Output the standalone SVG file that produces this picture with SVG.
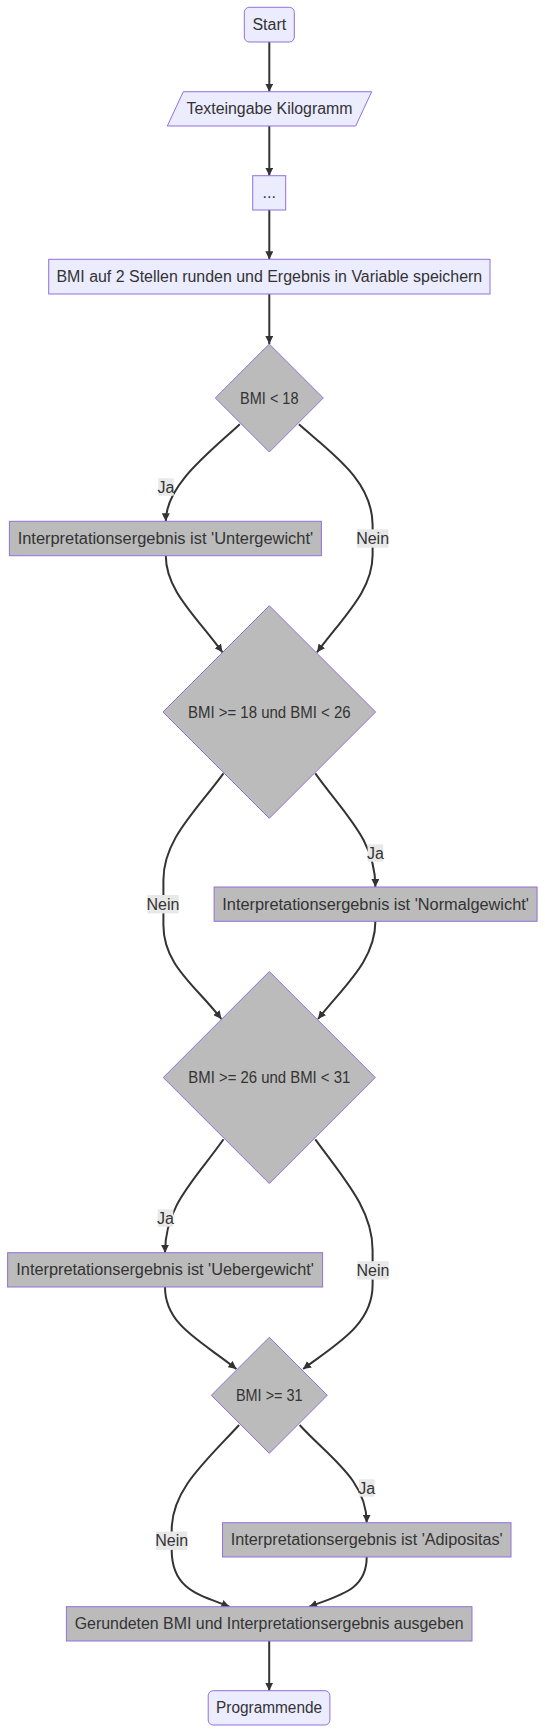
<svg xmlns="http://www.w3.org/2000/svg" width="545" height="1733" viewBox="0 0 545 1733">
<style>
.bg{fill:#ffffff}
.light{fill:#ECECFF;stroke:#9370DB;stroke-width:1}
.gray{fill:#BBBBBB;stroke:#9370DB;stroke-width:1}
.t{font-family:"Liberation Sans",Arial,sans-serif;font-size:16px;fill:#333333;text-anchor:middle}
.edge{fill:none;stroke:#333333;stroke-width:2}
.lbl{fill:#E8E8E8}
</style>
<defs>
<marker id="arrow" viewBox="0 0 10 10" refX="10" refY="5" markerUnits="userSpaceOnUse" markerWidth="8" markerHeight="8" orient="auto">
<path d="M0,0 L10,5 L0,10 z" fill="#333333"/>
</marker>
</defs>
<rect class="bg" x="0" y="0" width="545" height="1733"/>
<g id="connectors">
<path class="edge" marker-end="url(#arrow)" d="M269.3,42 L269.3,91.7"/>
<path class="edge" marker-end="url(#arrow)" d="M269.3,126 L269.3,175.7"/>
<path class="edge" marker-end="url(#arrow)" d="M269.3,210 L269.3,259.3"/>
<path class="edge" marker-end="url(#arrow)" d="M269.3,294 L269.3,344"/>
<path class="edge" marker-end="url(#arrow)" d="M239.8,424.3 C210,452 165.8,485 165.8,521.3"/>
<path class="edge" marker-end="url(#arrow)" d="M298.9,424.3 C330,452 372.6,480 372.6,525 L372.6,555 C372.6,590 345,615 317,652.3"/>
<path class="edge" marker-end="url(#arrow)" d="M165.8,555.7 C165.8,590 195,615 222.5,652.3"/>
<path class="edge" marker-end="url(#arrow)" d="M223.5,773.3 C195,812 163.4,840 163.4,880 L163.4,925 C163.4,965 195,985 221.4,1019"/>
<path class="edge" marker-end="url(#arrow)" d="M315.3,773.3 C345,815 375.4,840 375.4,887"/>
<path class="edge" marker-end="url(#arrow)" d="M375.4,921.3 C375.4,960 345,985 318,1019"/>
<path class="edge" marker-end="url(#arrow)" d="M223.5,1139.3 C195,1180 165,1205 165,1252.7"/>
<path class="edge" marker-end="url(#arrow)" d="M315.3,1139.3 C345,1180 372.6,1210 372.6,1250 L372.6,1285 C372.6,1325 335,1345 303.1,1369"/>
<path class="edge" marker-end="url(#arrow)" d="M165,1287 C165,1325 200,1340 236.4,1369"/>
<path class="edge" marker-end="url(#arrow)" d="M299.6,1425 C330,1458 366.7,1480 366.7,1522.7"/>
<path class="edge" marker-end="url(#arrow)" d="M239.1,1425 C205,1462 171.7,1490 171.7,1530 L171.7,1550 C171.7,1590 200,1595 229.4,1606.7"/>
<path class="edge" marker-end="url(#arrow)" d="M366.7,1557 C366.7,1590 340,1595 309.3,1606.7"/>
<path class="edge" marker-end="url(#arrow)" d="M269.2,1641 L269.2,1690.7"/>
<g id="edge-labels">
<rect class="lbl" x="158.2" y="478.3" width="15.6" height="17.4"/><text class="t" x="166" y="492.5">Ja</text>
<rect class="lbl" x="357" y="529.3" width="31.3" height="18.4"/><text class="t" x="372.6" y="544">Nein</text>
<rect class="lbl" x="147.4" y="895" width="31.3" height="18.4"/><text class="t" x="163" y="909.7">Nein</text>
<rect class="lbl" x="367.6" y="844.3" width="15.6" height="17.4"/><text class="t" x="375.4" y="858.5">Ja</text>
<rect class="lbl" x="157.7" y="1209.3" width="15.6" height="17.4"/><text class="t" x="165.5" y="1223.5">Ja</text>
<rect class="lbl" x="357.3" y="1261.2" width="31.3" height="18.4"/><text class="t" x="373" y="1275.9">Nein</text>
<rect class="lbl" x="358.9" y="1479.3" width="15.6" height="17.4"/><text class="t" x="366.7" y="1493.5">Ja</text>
<rect class="lbl" x="156" y="1531.5" width="31.3" height="18.4"/><text class="t" x="171.7" y="1546.2">Nein</text>
</g>
</g>
<g id="start">
<rect class="light" x="244.3" y="7.3" width="50" height="34.7" rx="5" ry="5"/>
<text class="t" x="269.3" y="30.2">Start</text>
</g>
<g id="texteingabe">
<polygon class="light" points="183.3,91.7 371.7,91.7 355.7,126 167.3,126"/>
<text class="t" x="269.5" y="114.3" textLength="166" lengthAdjust="spacingAndGlyphs">Texteingabe Kilogramm</text>
</g>
<g id="dots">
<rect class="light" x="252.7" y="175.7" width="33" height="34.3"/>
<text class="t" x="269.2" y="198.3">...</text>
</g>
<g id="bmi-runden">
<rect class="light" x="48.7" y="259.3" width="441.3" height="34.7"/>
<text class="t" x="269.3" y="282.2" textLength="425.8" lengthAdjust="spacingAndGlyphs">BMI auf 2 Stellen runden und Ergebnis in Variable speichern</text>
</g>
<g id="d1">
<polygon class="gray" points="269.3,344 323.3,398 269.3,452 215.3,398"/>
<text class="t" x="269.3" y="403.5" textLength="58.4" lengthAdjust="spacingAndGlyphs">BMI &lt; 18</text>
</g>
<g id="untergewicht">
<rect class="gray" x="9.4" y="521.3" width="312" height="34.4"/>
<text class="t" x="165.4" y="544" textLength="295.5" lengthAdjust="spacingAndGlyphs">Interpretationsergebnis ist 'Untergewicht'</text>
</g>
<g id="d2">
<polygon class="gray" points="269.3,605.7 375.6,712 269.3,818.3 163,712"/>
<text class="t" x="269.3" y="717.5" textLength="162.7" lengthAdjust="spacingAndGlyphs">BMI &gt;= 18 und BMI &lt; 26</text>
</g>
<g id="normalgewicht">
<rect class="gray" x="214.1" y="887" width="323" height="34.3"/>
<text class="t" x="375.6" y="909.7" textLength="306.6" lengthAdjust="spacingAndGlyphs">Interpretationsergebnis ist 'Normalgewicht'</text>
</g>
<g id="d3">
<polygon class="gray" points="269.3,971.5 375.3,1077.5 269.3,1183.5 163.3,1077.5"/>
<text class="t" x="269.3" y="1083" textLength="162" lengthAdjust="spacingAndGlyphs">BMI &gt;= 26 und BMI &lt; 31</text>
</g>
<g id="uebergewicht">
<rect class="gray" x="7.6" y="1252.7" width="315" height="34.3"/>
<text class="t" x="165.1" y="1275.4" textLength="297.5" lengthAdjust="spacingAndGlyphs">Interpretationsergebnis ist 'Uebergewicht'</text>
</g>
<g id="d4">
<polygon class="gray" points="269.3,1337.3 327.3,1395.3 269.3,1453.3 211.3,1395.3"/>
<text class="t" x="269.3" y="1400.8" textLength="66.7" lengthAdjust="spacingAndGlyphs">BMI &gt;= 31</text>
</g>
<g id="adipositas">
<rect class="gray" x="222.5" y="1522.7" width="288.5" height="34.3"/>
<text class="t" x="366.75" y="1545.4" textLength="271.8" lengthAdjust="spacingAndGlyphs">Interpretationsergebnis ist 'Adipositas'</text>
</g>
<g id="ausgabe">
<rect class="gray" x="66.4" y="1606.7" width="405.6" height="34.3"/>
<text class="t" x="269.2" y="1629.4" textLength="389" lengthAdjust="spacingAndGlyphs">Gerundeten BMI und Interpretationsergebnis ausgeben</text>
</g>
<g id="programmende">
<rect class="light" x="208.2" y="1690.7" width="121.7" height="34.3" rx="5" ry="5"/>
<text class="t" x="269.05" y="1713.4" textLength="106" lengthAdjust="spacingAndGlyphs">Programmende</text>
</g>
</svg>
